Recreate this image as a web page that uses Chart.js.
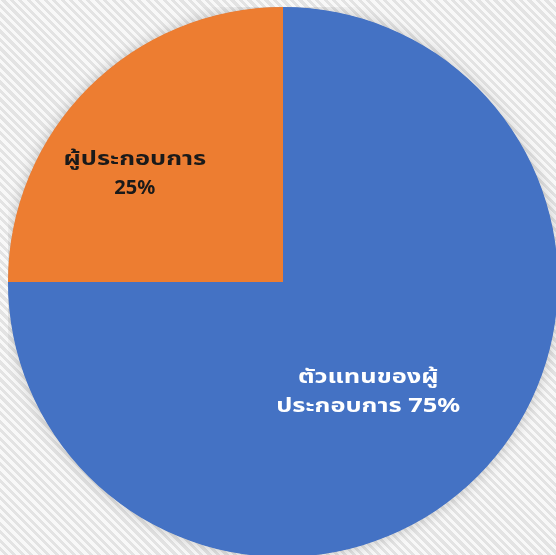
<!DOCTYPE html>
<html>
<head>
<meta charset="utf-8">
<script src="https://cdn.jsdelivr.net/npm/chart.js@4.4.1/dist/chart.umd.min.js"></script>
<style>
    html, body {
        margin: 0;
        padding: 0;
        width: 556px;
        height: 555px;
        overflow: hidden;
        background: repeating-linear-gradient(45deg, #f8f8f8 0px, #f8f8f8 3px, #e3e3e3 3px, #e3e3e3 6px);
    }
    #wrap {
        position: absolute;
        left: 8px;
        top: 7px;
        width: 550px;
        height: 550px;
    }
</style>
</head>
<body>
<div id="wrap"><canvas id="pieChart"></canvas></div>
<script>
// --- DATA ---
const sliceLabels = ['ตัวแทนของผู้ประกอบการ', 'ผู้ประกอบการ'];
const sliceValues = [75, 25];
const labelLines = [['ตัวแทนของผู้', 'ประกอบการ 75%'], ['ผู้ประกอบการ', '25%']];

// styling
const sliceColors = ['#4472C4', '#ED7D31'];
const textColors = ['#ffffff', '#1a1a1a'];
const labelRadius = [0.5, 0.69];
const labelNudge = [[-12, 13], [-14, 26]];

// one soft shadow under the whole pie (not per slice)
const pieShadow = {
    id: 'pieShadow',
    beforeDatasetsDraw(chart) {
        const arc = chart.getDatasetMeta(0).data[0];
        if (!arc) return;
        const p = arc.getProps(['x', 'y', 'outerRadius'], true);
        const ctx = chart.ctx;
        ctx.save();
        ctx.shadowColor = 'rgba(0, 0, 0, 0.22)';
        ctx.shadowBlur = 14;
        ctx.fillStyle = sliceColors[0];
        ctx.beginPath();
        ctx.arc(p.x, p.y, p.outerRadius - 0.5, 0, Math.PI * 2);
        ctx.fill();
        ctx.restore();
    }
};

// draws the text on each slice
const sliceText = {
    id: 'sliceText',
    afterDatasetsDraw(chart) {
        const ctx = chart.ctx;
        const meta = chart.getDatasetMeta(0);
        ctx.save();
        ctx.font = "bold 20px 'Noto Sans', 'Noto Sans Thai', sans-serif";
        ctx.textAlign = 'center';
        ctx.textBaseline = 'middle';
        meta.data.forEach((arc, i) => {
            const p = arc.getProps(['x', 'y', 'startAngle', 'endAngle', 'outerRadius'], true);
            const mid = (p.startAngle + p.endAngle) / 2;
            const cx = p.x + Math.cos(mid) * p.outerRadius * labelRadius[i] + labelNudge[i][0];
            const cy = p.y + Math.sin(mid) * p.outerRadius * labelRadius[i] + labelNudge[i][1];
            const lines = labelLines[i];
            const lh = 29;
            ctx.fillStyle = textColors[i];
            lines.forEach((t, k) => {
                const y = cy + (k - (lines.length - 1) / 2) * lh;
                // Thai glyphs are wider in the original font
                const sx = /[\u0E00-\u0E7F]/.test(t) ? 1.27 : 1.0;
                ctx.save();
                ctx.translate(cx, y);
                ctx.scale(sx, 1);
                ctx.fillText(t, 0, 0);
                ctx.restore();
            });
        });
        ctx.restore();
    }
};

new Chart(document.getElementById('pieChart'), {
    type: 'pie',
    data: {
        labels: sliceLabels,
        datasets: [{
            data: sliceValues,
            backgroundColor: sliceColors,
            borderWidth: 0
        }]
    },
    options: {
        responsive: true,
        maintainAspectRatio: false,
        animation: false,
        layout: { padding: 0 },
        plugins: {
            legend: { display: false },
            tooltip: { enabled: false }
        }
    },
    plugins: [pieShadow, sliceText]
});
</script>
</body>
</html>
